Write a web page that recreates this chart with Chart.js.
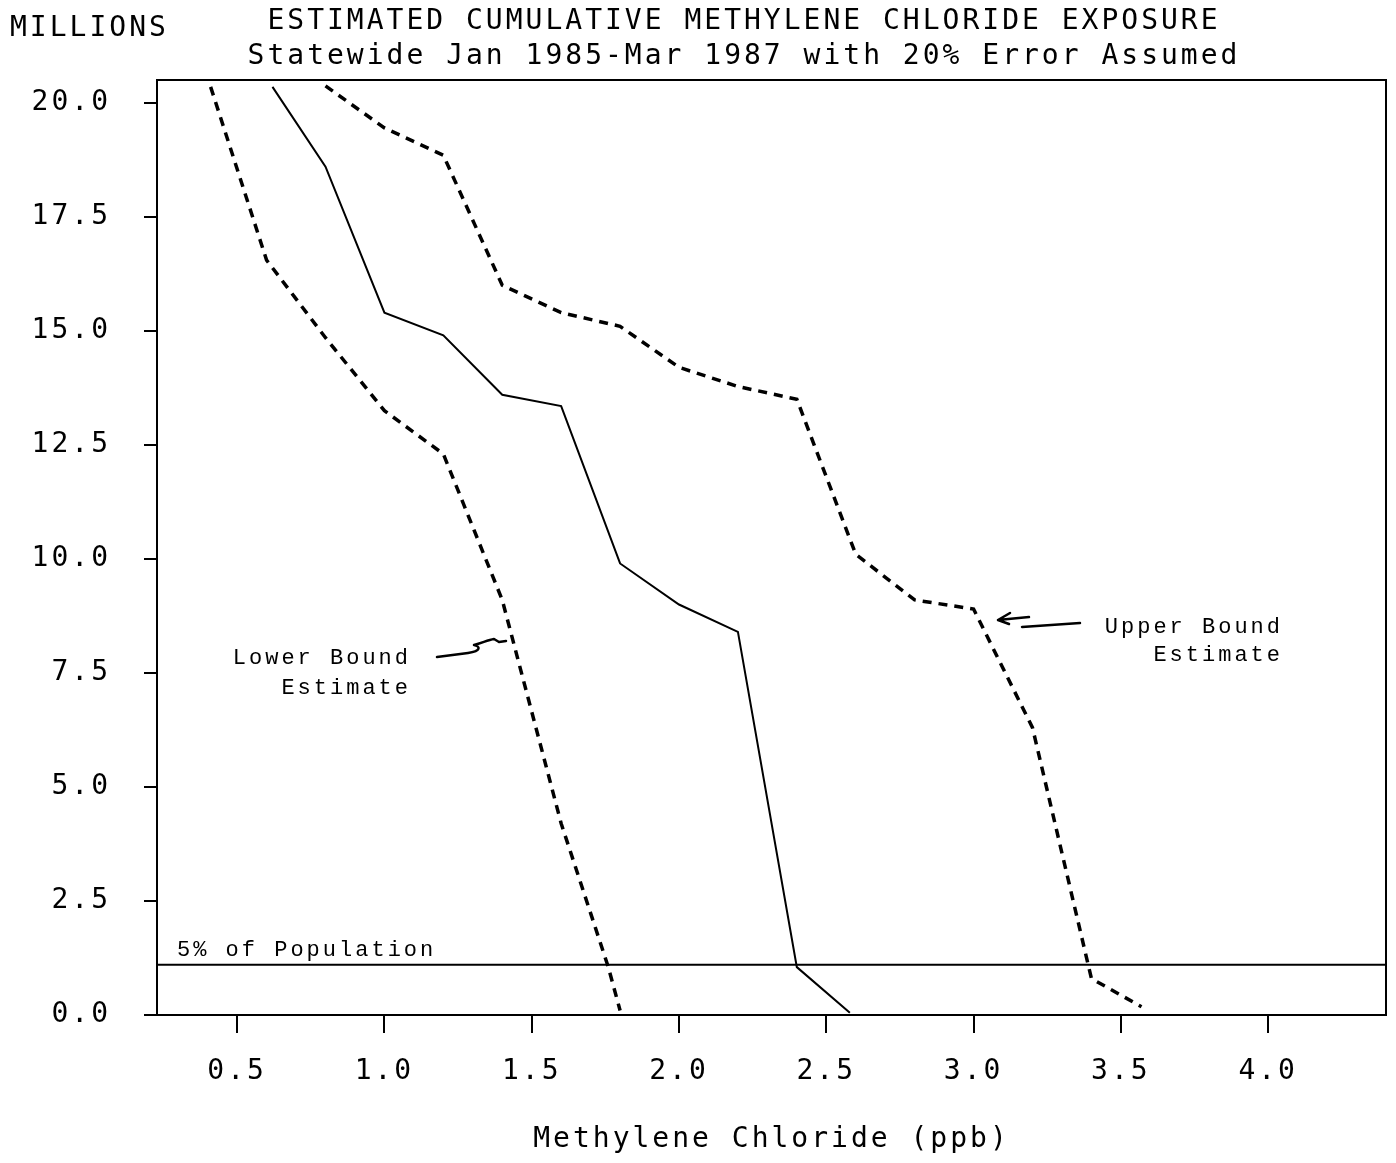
<!DOCTYPE html>
<html><head><meta charset="utf-8">
<script src="https://cdn.jsdelivr.net/npm/chart.js@4.4.1/dist/chart.umd.min.js"></script>
<style>html,body{margin:0;padding:0;background:#fff;} #wrap{width:1396px;height:1163px;position:relative;}</style>
</head><body><div id="wrap"><canvas id="c"></canvas></div>
<script>
// ---- data ----
const xTickValues = [0.5, 1.0, 1.5, 2.0, 2.5, 3.0, 3.5, 4.0];
const yTickValues = [0, 2.5, 5, 7.5, 10, 12.5, 15, 17.5, 20];

const lowerX  = [0.41, 0.60, 0.80, 1.00, 1.20, 1.40, 1.60, 1.76, 1.80];
const lowerY  = [20.35, 16.55, 14.85, 13.25, 12.30, 9.10, 4.20, 1.05, 0.10];

const middleX = [0.62, 0.80, 1.00, 1.20, 1.40, 1.60, 1.80, 2.00, 2.20, 2.40, 2.58];
const middleY = [20.35, 18.60, 15.40, 14.90, 13.60, 13.35, 9.90, 9.00, 8.40, 1.05, 0.05];

const upperX  = [0.80, 1.00, 1.20, 1.40, 1.60, 1.80, 2.00, 2.20, 2.40, 2.60, 2.80, 3.00, 3.20, 3.40, 3.57];
const upperY  = [20.37, 19.45, 18.85, 16.00, 15.40, 15.10, 14.20, 13.78, 13.50, 10.10, 9.10, 8.90, 6.30, 0.80, 0.18];

const populationLineY = 1.1;   // 5% of population (millions)
const xMin = 0.228, xMax = 4.40, yMin = 0, yMax = 20.5;

const titleLines = ["ESTIMATED CUMULATIVE METHYLENE CHLORIDE EXPOSURE",
                    "Statewide Jan 1985-Mar 1987 with 20% Error Assumed"];
const yUnitLabel = "MILLIONS";
const xAxisTitle = "Methylene Chloride (ppb)";
const lowerLabel = ["Lower Bound", "Estimate"];
const upperLabel = ["Upper Bound", "Estimate"];
const populationLabel = "5% of Population";

const pts = (xs, ys) => xs.map((x, i) => ({x: x, y: ys[i]}));

const spacingPlugin = {
  id: 'spacing',
  beforeUpdate(chart){ chart.ctx.letterSpacing = '3px'; },
  beforeLayout(chart){ chart.ctx.letterSpacing = '3px'; },
  beforeDraw(chart){
    const ctx = chart.ctx;
    ctx.save();
    ctx.fillStyle = '#fff';
    ctx.fillRect(0, 0, chart.width, chart.height);
    ctx.restore();
    ctx.letterSpacing = '3px';
  }
};

const decorPlugin = {
  id: 'decor',
  afterDraw(chart){
    const ctx = chart.ctx;
    const a = chart.chartArea;
    ctx.save();
    // frame
    ctx.strokeStyle = '#000';
    ctx.lineWidth = 2;
    ctx.strokeRect(a.left, a.top, a.right - a.left, a.bottom - a.top);

    // titles
    ctx.fillStyle = '#000';
    ctx.textBaseline = 'middle';
    ctx.font = '28px "DejaVu Sans Mono"';
    ctx.letterSpacing = '3px';
    ctx.textAlign = 'left';
    ctx.fillText(yUnitLabel, 10, 29);
    ctx.textAlign = 'center';
    ctx.fillText(titleLines[0], 744, 22);
    ctx.fillText(titleLines[1], 744, 57);

    // annotations
    ctx.font = '22px "Liberation Mono"';
    ctx.letterSpacing = '3px';
    ctx.textAlign = 'right';
    ctx.fillText(lowerLabel[0], 411, 658);
    ctx.fillText(lowerLabel[1], 411, 688);
    ctx.fillText(upperLabel[0], 1283, 627);
    ctx.fillText(upperLabel[1], 1283, 655);
    ctx.textAlign = 'left';
    ctx.fillText(populationLabel, 177, 950);

    // lower bound pointer (squiggle)
    ctx.lineWidth = 2.5;
    ctx.lineCap = 'round';
    ctx.lineJoin = 'round';
    ctx.beginPath();
    ctx.moveTo(437, 657);
    ctx.lineTo(468, 653);
    ctx.bezierCurveTo(482, 651, 480, 646, 474, 645);
    ctx.bezierCurveTo(482, 643, 488, 640, 494, 639);
    ctx.lineTo(499, 642);
    ctx.lineTo(506, 641);
    ctx.stroke();

    // upper bound pointer (arrow)
    ctx.beginPath();
    ctx.moveTo(1080, 623);
    ctx.lineTo(1022, 627);
    ctx.stroke();
    ctx.beginPath();
    ctx.moveTo(1029, 617);
    ctx.lineTo(998, 620);
    ctx.moveTo(998, 620);
    ctx.lineTo(1010, 613);
    ctx.moveTo(998, 620);
    ctx.lineTo(1009, 624);
    ctx.stroke();
    ctx.restore();
  }
};

const tickFont = {family: '"DejaVu Sans Mono"', size: 28};

new Chart(document.getElementById('c'), {
  type: 'line',
  data: {
    datasets: [
      {label: 'Lower Bound Estimate', data: pts(lowerX, lowerY), borderColor: '#000', borderWidth: 3.5,
       borderDash: [9, 7], pointRadius: 0, tension: 0, fill: false},
      {label: 'Estimate', data: pts(middleX, middleY), borderColor: '#000', borderWidth: 2,
       pointRadius: 0, tension: 0, fill: false},
      {label: 'Upper Bound Estimate', data: pts(upperX, upperY), borderColor: '#000', borderWidth: 3.5,
       borderDash: [9, 7], pointRadius: 0, tension: 0, fill: false},
      {label: '5% of Population', data: pts([xMin, xMax], [populationLineY, populationLineY]), borderColor: '#000',
       borderWidth: 2, pointRadius: 0, tension: 0, fill: false}
    ]
  },
  options: {
    responsive: true,
    maintainAspectRatio: false,
    animation: false,
    events: [],
    layout: {padding: {top: 80, right: 10, left: 0, bottom: 0}},
    plugins: {legend: {display: false}, tooltip: {enabled: false}, title: {display: false}},
    scales: {
      x: {
        type: 'linear', position: 'bottom', min: xMin, max: xMax,
        afterBuildTicks: s => { s.ticks = xTickValues.map(v => ({value: v})); },
        afterFit: s => { s.height = 148; },
        grid: {drawOnChartArea: false, drawTicks: true, tickLength: 18, color: '#000', lineWidth: 2},
        border: {display: true, color: '#000', width: 2},
        ticks: {color: '#000', font: tickFont, padding: 22, maxRotation: 0, autoSkip: false,
                callback: v => Number(v).toFixed(1)},
        title: {display: true, text: xAxisTitle, color: '#000', font: {family: '"DejaVu Sans Mono"', size: 28},
                padding: {top: 0, bottom: 6}}
      },
      y: {
        type: 'linear', position: 'left', min: yMin, max: yMax,
        afterBuildTicks: s => { s.ticks = yTickValues.map(v => ({value: v})); },
        afterFit: s => { s.width = 157; },
        grid: {drawOnChartArea: false, drawTicks: true, tickLength: 13, color: '#000', lineWidth: 2},
        border: {display: true, color: '#000', width: 2},
        ticks: {color: '#000', font: tickFont, padding: 33, autoSkip: false,
                callback: v => Number(v).toFixed(1)}
      }
    }
  },
  plugins: [spacingPlugin, decorPlugin]
});
</script>
</body></html>
